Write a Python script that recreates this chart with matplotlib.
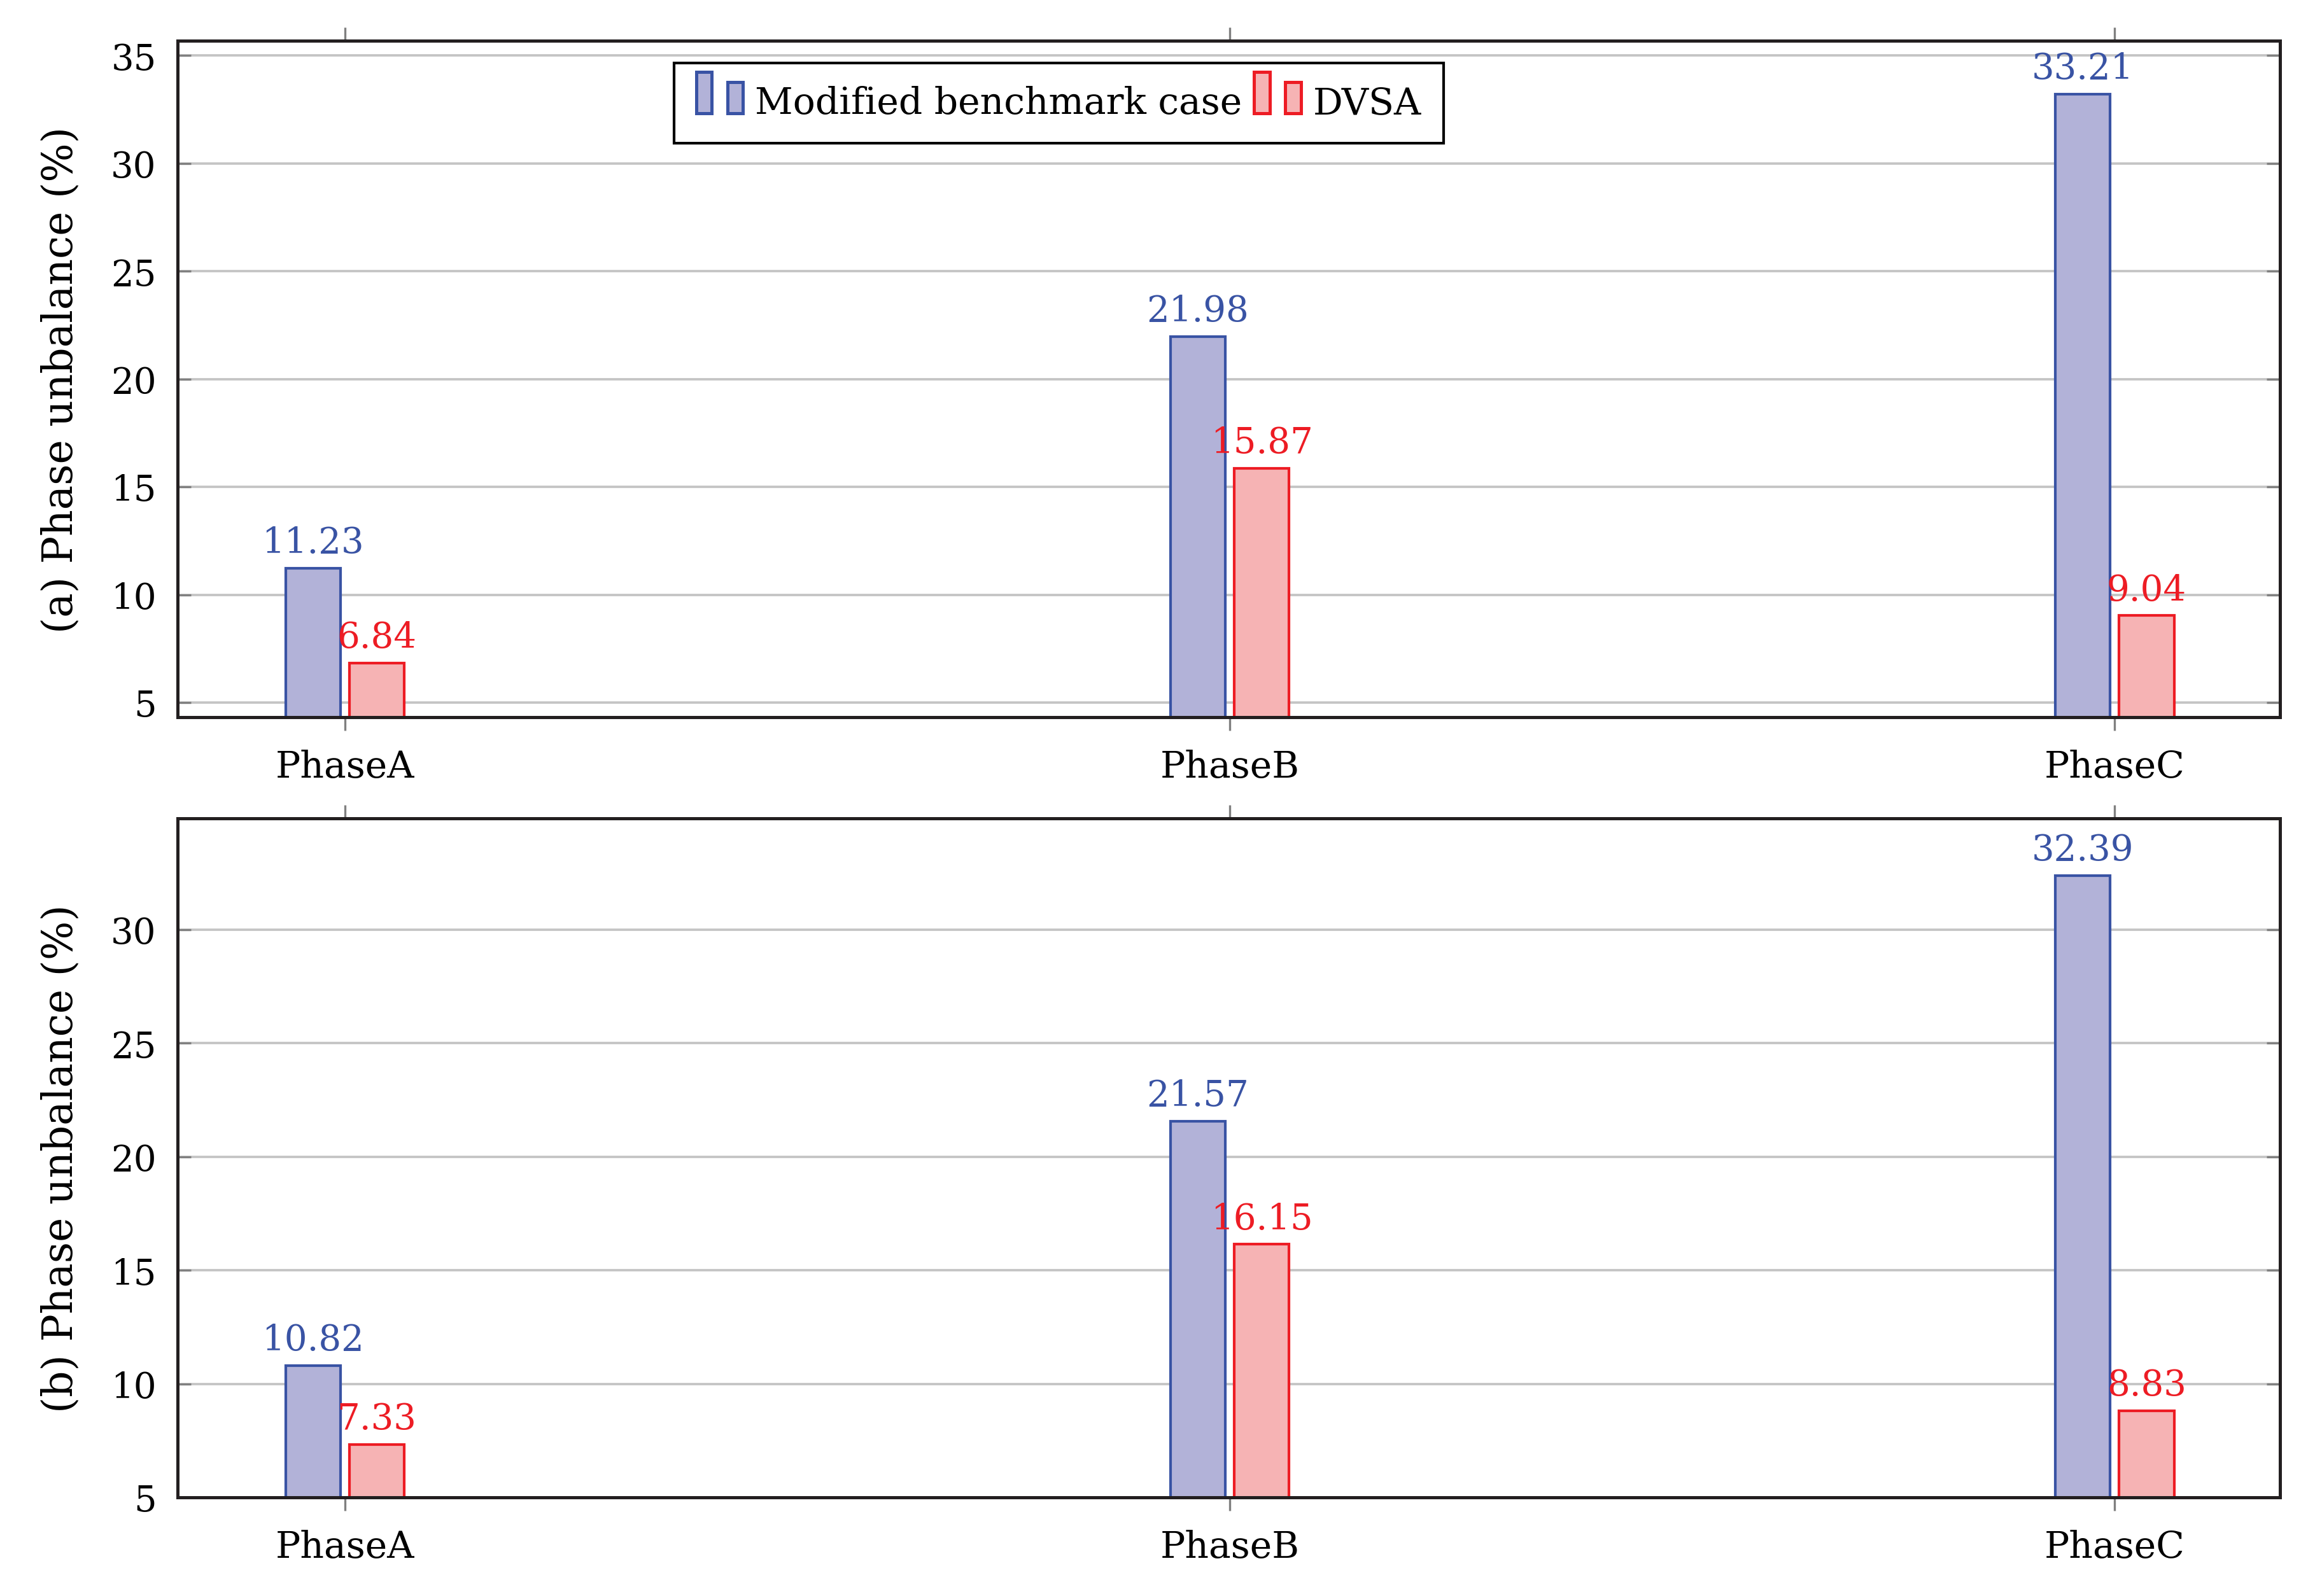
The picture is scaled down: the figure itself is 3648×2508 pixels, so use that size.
import numpy as np
import matplotlib.pyplot as plt
from matplotlib.patches import Rectangle
from matplotlib.legend_handler import HandlerBase

# values
phases = ['PhaseA', 'PhaseB', 'PhaseC']
bench_a = [11.23, 21.98, 33.21]
dvsa_a = [6.84, 15.87, 9.04]
bench_b = [10.82, 21.57, 32.39]
dvsa_b = [7.33, 16.15, 8.83]
series_names = ['Modified benchmark case', 'DVSA']

blue_edge, blue_fill = '#3953a4', '#b2b2d8'
red_edge, red_fill = '#ed1c24', '#f6b3b4'

plt.rcParams['font.family'] = ['DejaVu Serif']
plt.rcParams['font.size'] = 14


class TwoBars(HandlerBase):
    # pgfplots-style legend marker: two small bars of different height
    def create_artists(self, legend, orig_handle, xdescent, ydescent,
                       width, height, fontsize, trans):
        fc = orig_handle.get_facecolor()
        ec = orig_handle.get_edgecolor()
        w = 0.42 * fontsize
        gap = 0.42 * fontsize
        x0, y0 = -xdescent, -ydescent
        r1 = Rectangle((x0, y0), w, 1.12 * fontsize, fc=fc, ec=ec, lw=1.2,
                       transform=trans)
        r2 = Rectangle((x0 + w + gap, y0), w, 0.84 * fontsize, fc=fc, ec=ec,
                       lw=1.2, transform=trans)
        return [r1, r2]


def draw(ax, bench, dvsa, ylabel, ylim, yticks):
    x = np.arange(len(phases))
    off, w = 0.036, 0.062
    b1 = ax.bar(x - off, bench, w, color=blue_fill, edgecolor=blue_edge,
                lw=1.0, label=series_names[0])
    b2 = ax.bar(x + off, dvsa, w, color=red_fill, edgecolor=red_edge,
                lw=1.0, label=series_names[1])
    for xi, v in zip(x - off, bench):
        ax.annotate(f'{v:.2f}', (xi, v), xytext=(0, 3),
                    textcoords='offset points', ha='center', va='bottom',
                    color=blue_edge, fontsize=13.5)
    for xi, v in zip(x + off, dvsa):
        ax.annotate(f'{v:.2f}', (xi, v), xytext=(0, 3),
                    textcoords='offset points', ha='center', va='bottom',
                    color=red_edge, fontsize=13.5)
    ax.set_xlim(-0.189, 2.187)
    ax.set_ylim(*ylim)
    ax.set_yticks(yticks)
    ax.set_xticks(x)
    ax.set_xticklabels(phases)
    ax.set_ylabel(ylabel, fontsize=15.5, labelpad=11)
    ax.yaxis.grid(True, color='#c4c4c4', lw=0.9)
    ax.set_axisbelow(True)
    ax.tick_params(axis='y', direction='in', left=True, right=True,
                   length=5, width=0.8, color='#808080', pad=8,
                   labelsize=13.5)
    ax.tick_params(axis='x', direction='out', bottom=True, top=True,
                   length=5, width=0.8, color='#808080', pad=7)
    for s in ax.spines.values():
        s.set_linewidth(1.2)
        s.set_color('#231f20')
    return b1, b2


fig = plt.figure(figsize=(12.16, 8.363), dpi=300)
ax1 = fig.add_axes([0.0765, 0.5504, 0.9055, 0.4236])
ax2 = fig.add_axes([0.0765, 0.0617, 0.9055, 0.4253])

h1, h2 = draw(ax1, bench_a, dvsa_a, '(a) Phase unbalance (%)',
              (4.32, 35.68), [5, 10, 15, 20, 25, 30, 35])
draw(ax2, bench_b, dvsa_b, '(b) Phase unbalance (%)',
     (5, 34.9), [5, 10, 15, 20, 25, 30])

leg = ax1.legend([h1.patches[0], h2.patches[0]], series_names,
                 handler_map={Rectangle: TwoBars()}, ncol=2,
                 loc='upper left', bbox_to_anchor=(0.236, 0.967),
                 borderaxespad=0, frameon=True, fancybox=False, framealpha=1,
                 handlelength=1.26, handletextpad=0.32, columnspacing=0.33,
                 borderpad=0.6)
leg.get_frame().set_edgecolor('black')
leg.get_frame().set_linewidth(1.0)

fig.savefig('out.png', dpi=300)
